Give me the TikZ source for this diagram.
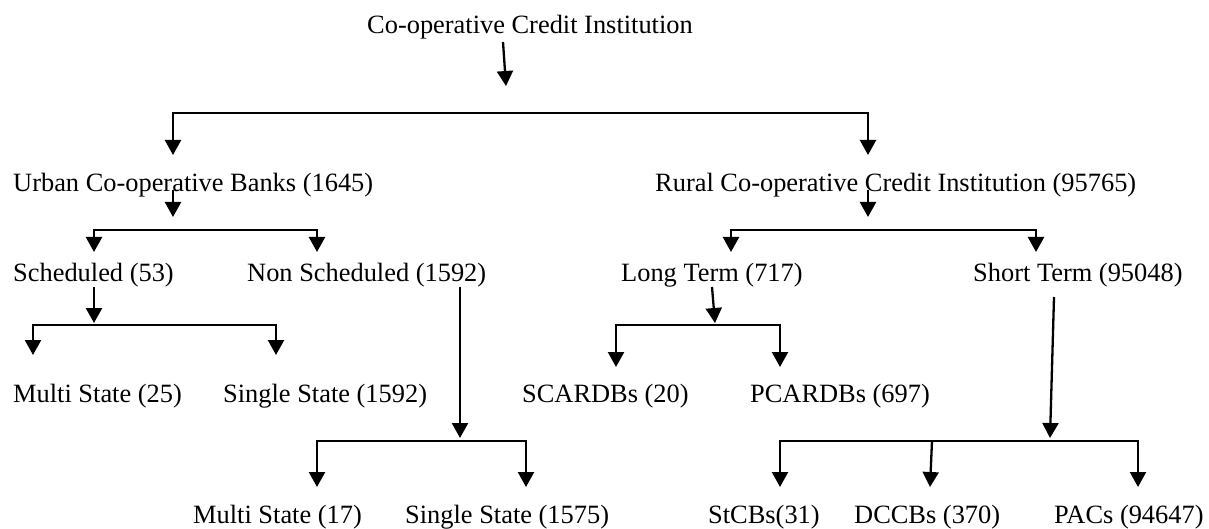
\documentclass[tikz,border=0pt]{standalone}
\usepackage{fontspec}
\setmainfont{Liberation Serif}
\usetikzlibrary{arrows.meta}
\begin{document}
\begin{tikzpicture}[x=1pt,y=-1pt,
  lbl/.style={anchor=base west, inner sep=0pt, font=\fontsize{26.4}{30}\selectfont},
  conn/.style={line width=2.3pt},
  arr/.style={conn, -{Triangle[width=16pt,length=15pt]}},
  darr/.style={conn, {Triangle[width=16pt,length=15pt]}-{Triangle[width=16pt,length=15pt]}}]
\fill[white] (0,0) rectangle (1209,529);
\useasboundingbox (0,0) rectangle (1209,529);

% texts
\node[lbl] (root) at (367,34) {Co-operative Credit Institution};
\node[lbl] (urban) at (13,192) {Urban Co-operative Banks (1645)};
\node[lbl] (rural) at (655,192) {Rural Co-operative Credit Institution (95765)};
\node[lbl] (sched) at (13,281) {Scheduled (53)};
\node[lbl] (nsched) at (247,281) {Non Scheduled (1592)};
\node[lbl] (long) at (621,281) {Long Term (717)};
\node[lbl] (short) at (973,281) {Short Term (95048)};
\node[lbl] (ms25) at (13,402) {Multi State (25)};
\node[lbl] (ss1592) at (223,402) {Single State (1592)};
\node[lbl] (scard) at (522,402) {SCARDBs (20)};
\node[lbl] (pcard) at (750,402) {PCARDBs (697)};
\node[lbl] (ms17) at (193,523) {Multi State (17)};
\node[lbl] (ss1575) at (405,523) {Single State (1575)};
\node[lbl] (stcb) at (708,523) {StCBs(31)};
\node[lbl] (dccb) at (854,523) {DCCBs (370)};
\node[lbl] (pacs) at (1054,523) {PACs (94647)};

% root
\coordinate (r0) at (503,42); \coordinate (r1) at (506,86);
\draw[arr] (r0) -- (r1);
\coordinate (uTip) at (173,155); \coordinate (rTip) at (868,155); \coordinate (bj) at (173,113);
\draw[darr] (uTip) -- (bj) -| (rTip);

% urban
\coordinate (u0) at (173,190); \coordinate (u1) at (173,217);
\draw[arr] (u0) -- (u1);
\coordinate (schTip) at (94,252); \coordinate (nschTip) at (317,252); \coordinate (uj) at (173,230);
\draw[darr] (schTip) |- (uj) -| (nschTip);

% rural
\coordinate (q0) at (868,190); \coordinate (q1) at (868,217);
\draw[arr] (q0) -- (q1);
\coordinate (ltTip) at (731,252); \coordinate (stTip) at (1036,252); \coordinate (qj) at (868,230);
\draw[darr] (ltTip) |- (qj) -| (stTip);

% scheduled
\coordinate (s0) at (94,287); \coordinate (s1) at (94,323);
\draw[arr] (s0) -- (s1);
\coordinate (ms25Tip) at (33,355); \coordinate (ss1592Tip) at (276,355); \coordinate (sj) at (94,325);
\draw[darr] (ms25Tip) |- (sj) -| (ss1592Tip);

% non scheduled
\coordinate (n0) at (460,287); \coordinate (n1) at (460,438);
\draw[arr] (n0) -- (n1);
\coordinate (ms17Tip) at (317,487); \coordinate (ss1575Tip) at (526,487); \coordinate (nj) at (460,441);
\draw[darr] (ms17Tip) |- (nj) -| (ss1575Tip);

% long term
\coordinate (l0) at (712,287); \coordinate (l1) at (715,323);
\draw[arr] (l0) -- (l1);
\coordinate (scardTip) at (616,367); \coordinate (pcardTip) at (780,367); \coordinate (lj) at (715,325);
\draw[darr] (scardTip) |- (lj) -| (pcardTip);

% short term
\coordinate (t0) at (1054,297); \coordinate (t1) at (1050,438);
\draw[arr] (t0) -- (t1);
\coordinate (stcbTip) at (780,487); \coordinate (pacsTip) at (1138,487); \coordinate (tj) at (1050,441);
\draw[darr] (stcbTip) |- (tj) -| (pacsTip);
\coordinate (d0) at (932,441); \coordinate (d1) at (930,487);
\draw[arr] (d0) -- (d1);
\end{tikzpicture}
\end{document}
